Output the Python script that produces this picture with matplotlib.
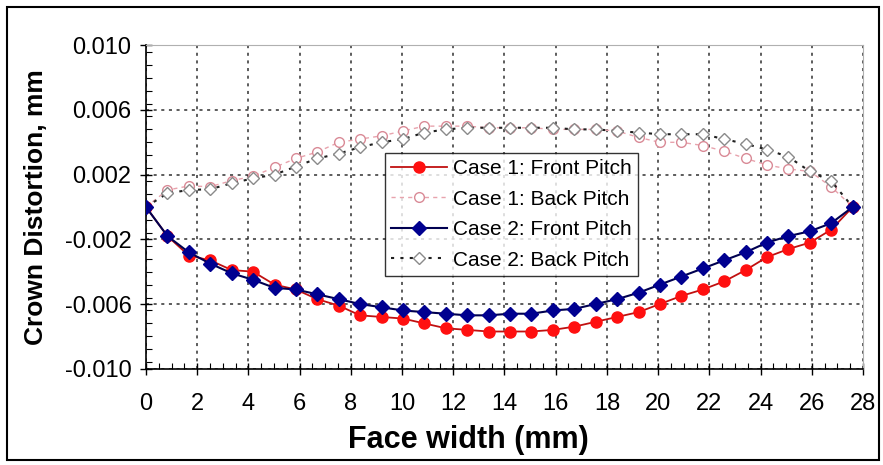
import matplotlib
matplotlib.use('Agg')
import matplotlib.pyplot as plt
from matplotlib.patches import Rectangle
from matplotlib.ticker import MultipleLocator, FormatStrFormatter

plt.rcParams['font.family'] = ['Liberation Sans', 'DejaVu Sans']

# face width positions (mm)
face_width = [0.00, 0.84, 1.67, 2.51, 3.35, 4.18, 5.02, 5.85, 6.69, 7.53,
              8.36, 9.20, 10.04, 10.87, 11.71, 12.55, 13.38, 14.22, 15.05, 15.89,
              16.73, 17.56, 18.40, 19.24, 20.07, 20.91, 21.75, 22.58, 23.42, 24.25,
              25.09, 25.93, 26.76, 27.60]

case1_front = [0.0, -0.0018, -0.0030, -0.0033, -0.0039, -0.0040, -0.0048, -0.0051, -0.0057, -0.0061,
               -0.0067, -0.0068, -0.0069, -0.0072, -0.0075, -0.0076, -0.0077, -0.0077, -0.0077, -0.0076,
               -0.0074, -0.0071, -0.0068, -0.0065, -0.0060, -0.0055, -0.0051, -0.0046, -0.0039, -0.0031,
               -0.0026, -0.0022, -0.0014, 0.0]
case1_back = [0.0, 0.00105, 0.0013, 0.00126, 0.00163, 0.0019, 0.00245, 0.0030, 0.0034, 0.0040,
              0.0042, 0.0044, 0.0047, 0.0050, 0.0050, 0.0050, 0.0049, 0.0049, 0.0049, 0.0048,
              0.0048, 0.0048, 0.0047, 0.0043, 0.0040, 0.0040, 0.0038, 0.00345, 0.0030, 0.0026,
              0.00235, 0.0022, 0.00125, 0.0]
case2_front = [0.0, -0.0018, -0.0028, -0.0035, -0.0041, -0.0045, -0.0050, -0.0051, -0.0054, -0.0057,
               -0.0060, -0.0062, -0.0064, -0.0065, -0.0066, -0.0067, -0.0067, -0.0066, -0.0066, -0.0064,
               -0.0063, -0.0060, -0.0057, -0.0053, -0.0048, -0.0043, -0.0038, -0.0033, -0.0028, -0.0022,
               -0.0018, -0.0015, -0.0010, 0.0]
case2_back = [0.0, 0.00085, 0.00105, 0.0011, 0.00147, 0.00177, 0.0020, 0.0025, 0.0030, 0.0033,
              0.0037, 0.0040, 0.0042, 0.0046, 0.0048, 0.0049, 0.0049, 0.0049, 0.0049, 0.0049,
              0.0048, 0.0048, 0.0047, 0.0046, 0.0045, 0.0045, 0.0045, 0.0042, 0.0039, 0.00355,
              0.0031, 0.0022, 0.0016, 0.0]

fig = plt.figure(figsize=(8.83, 4.65), dpi=100)
ax = fig.add_axes([0.1653, 0.2071, 0.8120, 0.6955])

ax.plot(face_width, case1_back, linestyle=(0, (3, 3)), color='#e8a3ad', lw=1.0,
        marker='o', markersize=7, markerfacecolor='white', markeredgecolor='#d98a96',
        markeredgewidth=1.0, label='Case 1: Back Pitch', zorder=3)
ax.plot(face_width, case2_back, linestyle=(0, (1.5, 3)), color='#202020', lw=1.5,
        marker='D', markersize=6, markerfacecolor='white', markeredgecolor='#8a8a8a',
        markeredgewidth=1.0, label='Case 2: Back Pitch', zorder=3)
ax.plot(face_width, case1_front, '-', color='#c01010', lw=1.3,
        marker='o', markersize=8, markerfacecolor='#ff1010', markeredgecolor='#ff1010',
        label='Case 1: Front Pitch', zorder=4)
ax.plot(face_width, case2_front, '-', color='#000050', lw=1.5,
        marker='D', markersize=7, markerfacecolor='#000090', markeredgecolor='#000090',
        label='Case 2: Front Pitch', zorder=5)

ax.set_xlim(0, 28)
ax.set_ylim(-0.010, 0.010)
ax.xaxis.set_major_locator(MultipleLocator(2))
ax.xaxis.set_minor_locator(MultipleLocator(0.5))
ax.yaxis.set_minor_locator(MultipleLocator(0.0008))
ax.set_yticks([-0.010, -0.006, -0.002, 0.002, 0.006, 0.010])
ax.yaxis.set_major_formatter(FormatStrFormatter('%.3f'))

ax.grid(True, which='major', linestyle=(0, (2, 3)), color='#303030', lw=1.1)
ax.tick_params(which='major', direction='inout', length=9, width=1.0, labelsize=17)
ax.tick_params(which='minor', direction='in', length=4, width=0.8)
ax.tick_params(axis='y', pad=6)
ax.tick_params(axis='x', pad=13)

for side in ['top', 'right']:
    ax.spines[side].set_color('#b0b0b0')
for side in ['left', 'bottom']:
    ax.spines[side].set_color('black')
    ax.spines[side].set_linewidth(1.2)

ax.set_xlabel('Face width (mm)', fontsize=22, fontweight='bold')
ax.set_ylabel('Crown Distortion, mm', fontsize=19, fontweight='bold')
ax.xaxis.set_label_coords(0.45, -0.175)
ax.yaxis.set_label_coords(-0.137, 0.5)

handles, labels = ax.get_legend_handles_labels()
order = [2, 0, 3, 1]
leg = ax.legend([handles[i] for i in order], [labels[i] for i in order],
                loc='upper left', bbox_to_anchor=(0.333, 0.667), borderaxespad=0,
                fontsize=15, frameon=True, fancybox=False, handlelength=2.7,
                labelspacing=0.55, borderpad=0.3, handletextpad=0.3)
leg.get_frame().set_edgecolor('black')
leg.get_frame().set_linewidth(1.0)

fig.patches.append(Rectangle((0.008, 0.01), 0.988, 0.975, transform=fig.transFigure,
                             fill=False, edgecolor='black', lw=1.5))

fig.savefig('out.png', dpi=100)
